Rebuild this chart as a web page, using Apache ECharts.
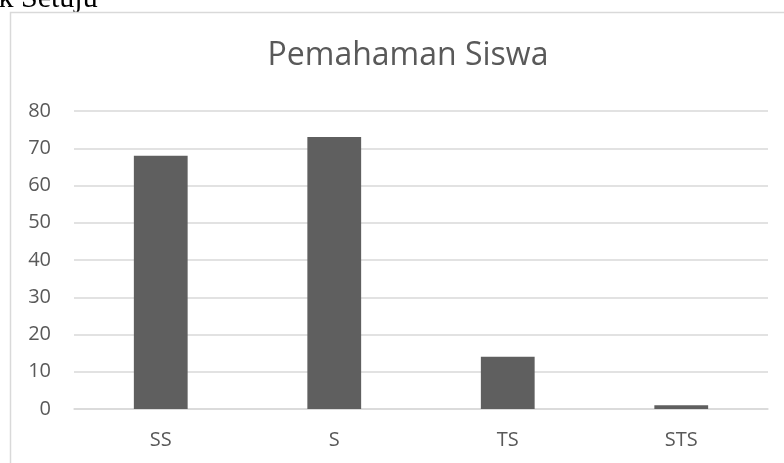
<!DOCTYPE html>
<html>
<head>
<meta charset="utf-8">
<script src="https://cdn.jsdelivr.net/npm/echarts@6/dist/echarts.min.js"></script>
<style>
  html, body { margin: 0; padding: 0; background: #fff; }
  #chart { width: 784px; height: 463px; }
</style>
</head>
<body>
<div id="chart"></div>
<script>
  const categories = ["SS", "S", "TS", "STS"];
  const values = [68, 73, 14, 1];
  const yMin = 0;
  const yMax = 80;
  const yStep = 10;

  const grey = "#595959";
  const lineGrey = "#d9d9d9";
  const font = "Open Sans, Noto Sans, sans-serif";

  const chart = echarts.init(document.getElementById("chart"));
  chart.setOption({
    animation: false,
    backgroundColor: "#fff",
    title: {
      text: "Pemahaman Siswa",
      left: 403,
      top: 35,
      textAlign: "center",
      textStyle: { color: grey, fontSize: 32, fontWeight: "normal", fontFamily: font }
    },
    graphic: [
      // cropped line of document text above the chart box
      {
        type: "text",
        x: -1.5,
        y: 14,
        style: {
          text: "k Setuju",
          fontSize: 30,
          fontFamily: "Liberation Serif, serif",
          fill: "#000",
          verticalAlign: "bottom"
        }
      },
      {
        type: "rect",
        shape: { x: 10.5, y: 12.5, width: 790, height: 470 },
        style: { fill: "none", stroke: lineGrey, lineWidth: 1.5 }
      }
    ],
    grid: { left: 74, right: 16, top: 111, bottom: 54, containLabel: false },
    xAxis: {
      type: "category",
      data: categories,
      axisLine: { lineStyle: { color: lineGrey, width: 1.5 } },
      axisTick: { show: false },
      axisLabel: { color: grey, fontSize: 20, fontFamily: font, margin: 21 }
    },
    yAxis: {
      type: "value",
      min: yMin,
      max: yMax,
      interval: yStep,
      axisLine: { show: false },
      axisTick: { show: false },
      splitLine: { lineStyle: { color: lineGrey, width: 1.5 } },
      axisLabel: { color: grey, fontSize: 20, fontFamily: font, margin: 23 }
    },
    series: [{
      type: "bar",
      data: values,
      barWidth: "31%",
      itemStyle: { color: "#5f5f5f" }
    }]
  });
</script>
</body>
</html>
